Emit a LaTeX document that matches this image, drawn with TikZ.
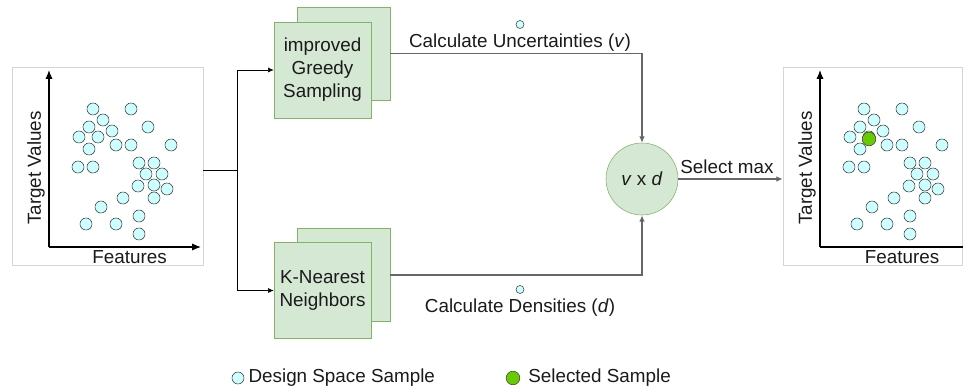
\documentclass[tikz,border=0pt]{standalone}
\usepackage{fontspec}
\setmainfont{Liberation Sans}
\usetikzlibrary{arrows.meta,calc,positioning}
\definecolor{boxfill}{HTML}{D5E8D4}
\definecolor{boxline}{HTML}{82B366}
\definecolor{dotfill}{HTML}{CCFFFF}
\definecolor{selfill}{HTML}{66CC00}
\definecolor{panelline}{HTML}{D4D4D4}
\definecolor{wireline}{HTML}{666666}
\definecolor{textcol}{HTML}{1A1A1A}
\tikzset{
    block/.style = {draw=boxline, fill=boxfill, rectangle,
        minimum width=2.425cm, minimum height=2.4cm,
        align=center, inner sep=0pt},
    backblock/.style = {draw=boxline, fill=boxfill, rectangle,
        minimum width=2.325cm, minimum height=2.325cm},
    panel/.style = {draw=panelline, rectangle, minimum height=4.95cm},
    sample/.style = {draw=black!75, fill=dotfill, circle, minimum size=0.3cm, inner sep=0pt},
    selected/.style = {draw=black!75, fill=selfill, circle, minimum size=0.34cm, inner sep=0pt},
    tinysample/.style = {draw=black!75, fill=dotfill, circle, minimum size=0.2cm, inner sep=0pt},
    multnode/.style = {draw=boxline, fill=boxfill, circle, minimum size=1.8cm},
    axis/.style = {draw=black, line width=0.9pt, -{Latex[length=2.2mm,width=1.8mm]}},
    arrow/.style = {draw=black, -{Latex[length=1.4mm,width=1.2mm]}},
    wire/.style = {draw=wireline, line width=0.9pt, -{Latex[length=1.6mm,width=1.4mm]}},
    label/.style = {text=textcol, inner sep=0pt}
}
\begin{document}
\begin{tikzpicture}[x=0.025cm, y=-0.025cm, font=\fontsize{13.4}{16.4}\selectfont, text=textcol]
    \useasboundingbox (0,0) rectangle (963,389);
    % data panels
    \node [panel, minimum width=4.775cm] (data) at (107.5,166) {};
    \node [panel, minimum width=4.475cm] (result) at (872.5,166) {};
    \coordinate (o1) at (49,247);
    \coordinate (o2) at (820,247);
    \draw [axis] (o1) -- (49,70);
    \draw [axis] (o1) -- (201,247);
    \draw [axis] (o2) -- (820,70);
    \draw [draw=black, line width=0.9pt] (o2) -- (963,247);
    \node [label, rotate=90] (ylab1) at (36,168) {Target Values};
    \node [label] (xlab1) at (129.5,257) {Features};
    \node [label, rotate=90] (ylab2) at (807,168) {Target Values};
    \node [label] (xlab2) at (902,257) {Features};
    \foreach \x/\y [count=\i] in {93/109, 131/109, 103/120, 89/127, 112/131, 148/127,
            79/137, 98/137, 116/145, 131/145, 171/145, 89/149, 78/167, 93/167,
            139/163, 154/163, 146/174, 162/174, 138/186, 154/185, 167/189,
            123/198, 154/198, 101/207, 139/216, 86/224, 116/224, 139/234} {
        \node [sample] (a\i) at (\x,\y) {};
        \node [sample] (b\i) at (\x+771,\y) {};
    }
    \node [selected] (pick) at (869,139) {};
    % methods
    \node [backblock] (greedyback) at (343.5,53.5) {};
    \node [block] (greedy) at (322.5,70) {improved\\Greedy\\Sampling};
    \node [backblock] (knnback) at (343.5,275) {};
    \node [block] (knn) at (322.5,290.5) {K-Nearest\\Neighbors};
    \node [multnode] (mult) at (642,179) {\textit{v} x \textit{d}};
    \coordinate (split) at (237,170);
    \draw [black] (data.east |- split) -- (split);
    \draw [arrow] (split) |- (greedy.west);
    \draw [arrow] (split) |- (knn.west);
    \draw [wire] (greedyback.east) -| (mult.north);
    \draw [wire] (knnback.east) -| (mult.south);
    \draw [wire] (mult.east) -- (mult.east -| result.west);
    \node [label] (unc) at (520,43) {Calculate Uncertainties (\textit{v})};
    \node [tinysample, above=1.3mm of unc] (uncdot) {};
    \node [label] (dens) at (520,308) {Calculate Densities (\textit{d})};
    \node [tinysample, above=1.3mm of dens] (densdot) {};
    \node [label] (selmax) at (727,167) {Select max};
    % legend
    \node [sample] (legdot) at (238,378) {};
    \node [label, right=1mm of legdot] (legtxt) {Design Space Sample};
    \node [selected] (legsel) at (513,378) {};
    \node [label, right=2mm of legsel] (legseltxt) {Selected Sample};
\end{tikzpicture}
\end{document}
